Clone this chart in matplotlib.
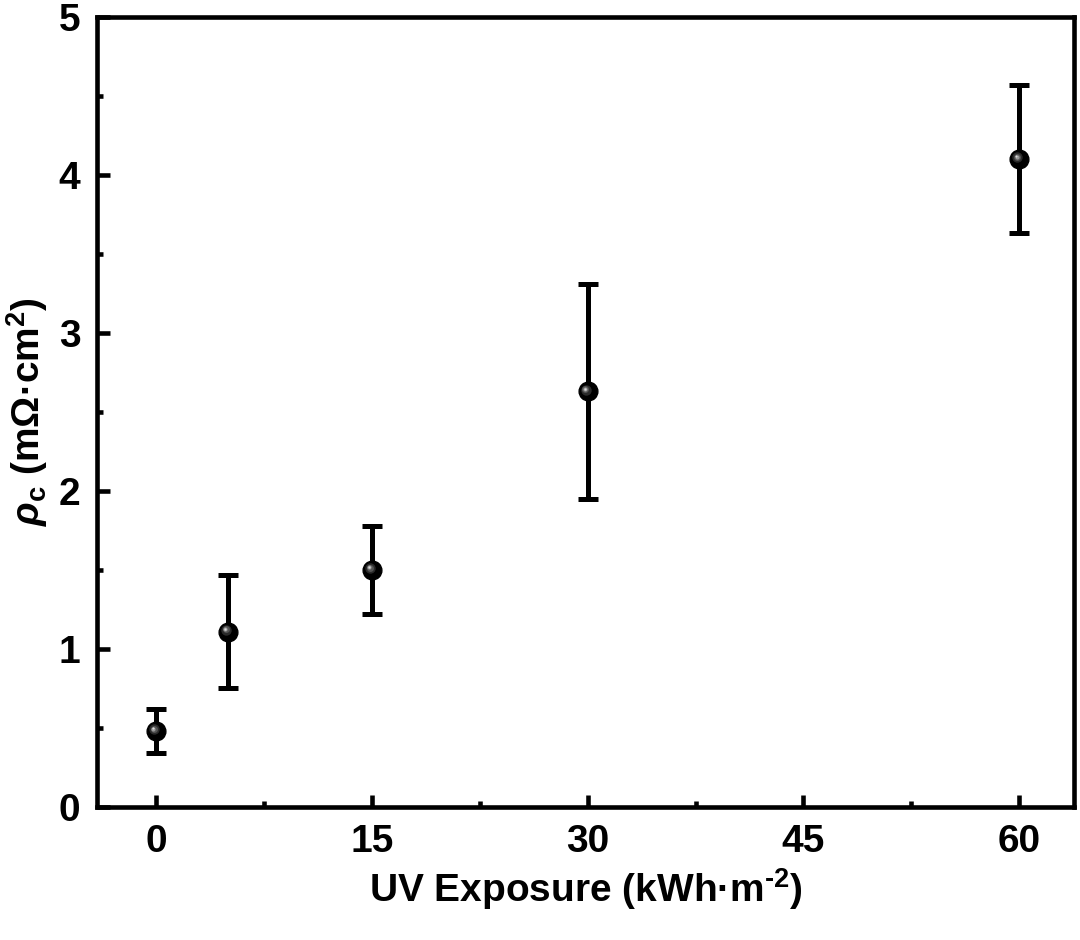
import matplotlib
matplotlib.use('Agg')
import matplotlib.pyplot as plt
from matplotlib.transforms import offset_copy
from matplotlib.ticker import MultipleLocator

# UV exposure (kWh/m2) and contact resistivity (mOhm cm2)
uv = [0, 5, 15, 30, 60]
rho = [0.48, 1.11, 1.50, 2.63, 4.10]
rho_hi = [0.62, 1.47, 1.78, 3.31, 4.57]
rho_lo = [0.34, 0.75, 1.22, 1.95, 3.63]

err_lo = [r - l for r, l in zip(rho, rho_lo)]
err_hi = [h - r for r, h in zip(rho, rho_hi)]

plt.rcParams['font.family'] = ['Liberation Sans', 'DejaVu Sans']
plt.rcParams['font.weight'] = 'bold'
plt.rcParams['mathtext.fontset'] = 'custom'
plt.rcParams['mathtext.rm'] = 'Liberation Sans:bold'
plt.rcParams['mathtext.it'] = 'Liberation Sans:italic:bold'
plt.rcParams['mathtext.bf'] = 'Liberation Sans:bold'

fig = plt.figure(figsize=(10.8, 9.4), dpi=100)
ax = fig.add_axes([0.0898, 0.1415, 0.9046, 0.8405])

ax.errorbar(uv, rho, yerr=[err_lo, err_hi], fmt='o', color='black',
            ms=13.5, elinewidth=3.6, capsize=7.5, capthick=3.6, zorder=3)

# fake sphere shading: lighter dots shifted up-left
for k, (s, c) in enumerate([(7.5, '#2a2a2a'), (5, '#555555'), (3, '#9a9a9a'), (1.5, '#dddddd')]):
    tr = offset_copy(ax.transData, fig=fig, x=-1.3 - 0.25 * k, y=1.3 + 0.25 * k, units='points')
    ax.plot(uv, rho, 'o', ms=s, color=c, mec='none', transform=tr, zorder=4 + k)

ax.set_xlim(-4.1, 63.8)
ax.set_ylim(0, 5)
ax.xaxis.set_major_locator(MultipleLocator(15))
ax.xaxis.set_minor_locator(MultipleLocator(7.5))
ax.yaxis.set_major_locator(MultipleLocator(1))
ax.yaxis.set_minor_locator(MultipleLocator(0.5))

for sp in ax.spines.values():
    sp.set_linewidth(3.3)
ax.tick_params(which='both', direction='in', top=False, right=False, width=3.3)
ax.tick_params(which='major', length=9, labelsize=28)
ax.tick_params(which='minor', length=4.5)
ax.tick_params(axis='x', pad=12)
ax.tick_params(axis='y', pad=12)

ax.set_xlabel('UV Exposure (kWh·m$^{\\mathrm{\u2010}2}$)', fontsize=28, fontweight='bold', labelpad=5)
ax.set_ylabel(r'$\rho_\mathrm{c}$ (mΩ·cm$^\mathrm{2}$)', fontsize=28, fontweight='bold', labelpad=6)

fig.savefig('out.png', dpi=100)
